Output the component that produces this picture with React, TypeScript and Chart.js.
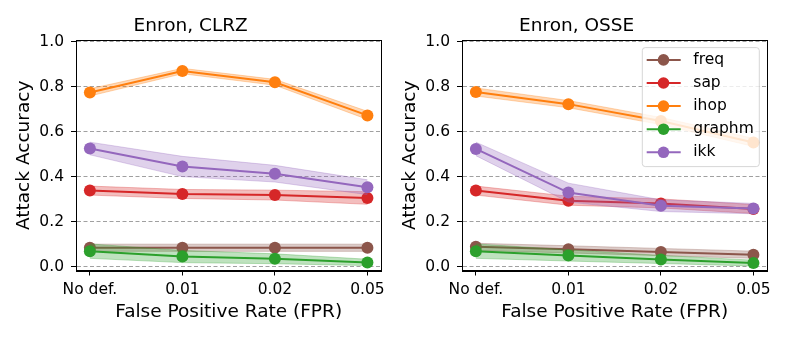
import React, { useEffect, useRef } from "react";
import { Chart, registerables } from "chart.js";

Chart.register(...registerables);

const categories = ["No def.", "0.01", "0.02", "0.05"];
const categoryPositions = [0, 1, 2, 3];
const yTicks = [0, 0.2, 0.4, 0.6, 0.8, 1.0];
const seriesNames = ["freq", "sap", "ihop", "graphm", "ikk"];
const seriesColors = ["#8c564b", "#d62728", "#ff7f0e", "#2ca02c", "#9467bd"];

// Enron, CLRZ (mean values and half-width of the shaded band)
const clrzFreq = [0.084, 0.084, 0.084, 0.084];
const clrzFreqSpread = [0.016, 0.016, 0.016, 0.016];
const clrzSap = [0.338, 0.323, 0.318, 0.305];
const clrzSapSpread = [0.02, 0.02, 0.022, 0.028];
const clrzIhop = [0.774, 0.869, 0.819, 0.672];
const clrzIhopSpread = [0.016, 0.012, 0.013, 0.018];
const clrzGraphm = [0.069, 0.045, 0.035, 0.019];
const clrzGraphmSpread = [0.032, 0.027, 0.022, 0.014];
const clrzIkk = [0.525, 0.445, 0.413, 0.353];
const clrzIkkSpread = [0.028, 0.045, 0.037, 0.033];

// Enron, OSSE
const osseFreq = [0.088, 0.077, 0.065, 0.053];
const osseFreqSpread = [0.016, 0.016, 0.016, 0.016];
const osseSap = [0.338, 0.293, 0.281, 0.256];
const osseSapSpread = [0.02, 0.02, 0.02, 0.02];
const osseIhop = [0.776, 0.722, 0.647, 0.552];
const osseIhopSpread = [0.018, 0.016, 0.016, 0.018];
const osseGraphm = [0.069, 0.05, 0.032, 0.016];
const osseGraphmSpread = [0.032, 0.025, 0.018, 0.013];
const osseIkk = [0.523, 0.329, 0.271, 0.258];
const osseIkkSpread = [0.03, 0.042, 0.026, 0.023];

const FONT = "'DejaVu Sans', sans-serif";

function rgba(hex: string, a: number) {
  const n = parseInt(hex.slice(1), 16);
  return `rgba(${(n >> 16) & 255},${(n >> 8) & 255},${n & 255},${a})`;
}

const framePlugin = {
  id: "frame",
  afterDatasetsDraw(chart: any) {
    const { ctx, chartArea: a } = chart;
    ctx.save();
    ctx.strokeStyle = "#000";
    ctx.lineWidth = 1;
    const l = Math.round(a.left) + 0.5;
    const t = Math.round(a.top) + 0.5;
    const r = Math.round(a.right) + 0.5;
    const b = Math.round(a.bottom) + 0.5;
    ctx.strokeRect(l, t, r - l, b - t);
    ctx.restore();
  },
};

const boxLegendPlugin = {
  id: "boxLegend",
  afterDraw(chart: any, _args: any, opts: any) {
    if (!opts || !opts.show) return;
    const { ctx, chartArea: a } = chart;
    const w = 117;
    const h = 119;
    const x = a.right - 8 - w;
    const y = a.top + 7.4;
    const r = 3;
    ctx.save();
    ctx.beginPath();
    ctx.moveTo(x + r, y);
    ctx.lineTo(x + w - r, y);
    ctx.arcTo(x + w, y, x + w, y + r, r);
    ctx.lineTo(x + w, y + h - r);
    ctx.arcTo(x + w, y + h, x + w - r, y + h, r);
    ctx.lineTo(x + r, y + h);
    ctx.arcTo(x, y + h, x, y + h - r, r);
    ctx.lineTo(x, y + r);
    ctx.arcTo(x, y, x + r, y, r);
    ctx.closePath();
    ctx.fillStyle = "rgba(255,255,255,0.8)";
    ctx.fill();
    ctx.strokeStyle = "rgba(204,204,204,0.8)";
    ctx.lineWidth = 1;
    ctx.stroke();
    seriesNames.forEach((name, i) => {
      const cy = y + 12.3 + i * 23.1;
      const color = seriesColors[i];
      ctx.strokeStyle = color;
      ctx.lineWidth = 2;
      ctx.beginPath();
      ctx.moveTo(x + 4.4, cy);
      ctx.lineTo(x + 38.4, cy);
      ctx.stroke();
      ctx.fillStyle = color;
      ctx.beginPath();
      ctx.arc(x + 21.2, cy, 5.8, 0, Math.PI * 2);
      ctx.fill();
      ctx.fillStyle = "#000";
      ctx.font = `15.5px ${FONT}`;
      ctx.textBaseline = "middle";
      ctx.textAlign = "left";
      ctx.fillText(name, x + 51, cy);
    });
    ctx.restore();
  },
};

type Series = { mean: number[]; spread: number[] };

function buildDatasets(series: Series[]) {
  const datasets: any[] = [];
  series.forEach((s, k) => {
    const color = seriesColors[k];
    const base = 100 - k * 10;
    datasets.push({
      label: seriesNames[k] + " upper",
      data: categoryPositions.map((x, i) => ({ x, y: s.mean[i] + s.spread[i] })),
      borderColor: rgba(color, 0.3),
      borderWidth: 1,
      pointRadius: 0,
      fill: false,
      order: base,
    });
    datasets.push({
      label: seriesNames[k] + " lower",
      data: categoryPositions.map((x, i) => ({ x, y: s.mean[i] - s.spread[i] })),
      borderColor: rgba(color, 0.3),
      backgroundColor: rgba(color, 0.3),
      borderWidth: 1,
      pointRadius: 0,
      fill: "-1",
      order: base - 1,
    });
    datasets.push({
      label: seriesNames[k],
      data: categoryPositions.map((x, i) => ({ x, y: s.mean[i] })),
      borderColor: color,
      backgroundColor: color,
      borderWidth: 2,
      pointRadius: 6,
      pointBorderWidth: 0,
      pointBackgroundColor: color,
      fill: false,
      order: base - 2,
    });
  });
  return datasets;
}

function Panel({ title, series, legend, left }: { title: string; series: Series[]; legend: boolean; left: number }) {
  const ref = useRef<HTMLCanvasElement>(null);
  useEffect(() => {
    if (!ref.current) return;
    const chart = new Chart(ref.current, {
      type: "line",
      data: { datasets: buildDatasets(series) },
      plugins: [framePlugin, boxLegendPlugin],
      options: {
        animation: false,
        responsive: false,
        devicePixelRatio: 1,
        layout: { padding: { left: 0, right: 12.7, top: 0, bottom: 0 } },
        plugins: {
          legend: { display: false },
          tooltip: { enabled: false },
          title: {
            display: true,
            text: title,
            color: "#000",
            font: { family: FONT, size: 18.5, weight: "normal" },
            padding: { top: 15, bottom: 3 },
          },
          boxLegend: { show: legend },
        } as any,
        scales: {
          x: {
            type: "linear",
            min: -0.15,
            max: 3.15,
            afterBuildTicks: (scale: any) => {
              scale.ticks = categoryPositions.map((v) => ({ value: v }));
            },
            afterFit: (scale: any) => {
              scale.height = 67.5;
            },
            ticks: {
              color: "#000",
              font: { family: FONT, size: 15.5 },
              padding: 5,
              maxRotation: 0,
              callback: (v: any) => categories[Math.round(Number(v))] ?? "",
            },
            grid: {
              drawOnChartArea: false,
              drawTicks: true,
              tickLength: 5,
              tickColor: "#000",
              tickWidth: 1,
            },
            border: { display: true, color: "#000", width: 1 },
            title: {
              display: true,
              text: "False Positive Rate (FPR)",
              color: "#000",
              font: { family: FONT, size: 18.5 },
              padding: { top: 0, bottom: 15 },
            },
          },
          y: {
            type: "linear",
            min: -0.017,
            max: 1.006,
            afterBuildTicks: (scale: any) => {
              scale.ticks = yTicks.map((v) => ({ value: v }));
            },
            afterFit: (scale: any) => {
              scale.width = 76;
            },
            ticks: {
              color: "#000",
              font: { family: FONT, size: 15.5 },
              padding: 7,
              callback: (v: any) => Number(v).toFixed(1),
            },
            grid: {
              drawOnChartArea: true,
              drawTicks: true,
              tickLength: 5,
              tickColor: "#000",
              tickWidth: 1,
              color: "#a0a0a0",
              lineWidth: 1,
            },
            border: { display: true, color: "#000", width: 1, dash: [4, 2.5] },
            title: {
              display: true,
              text: "Attack Accuracy",
              color: "#000",
              font: { family: FONT, size: 18.5 },
              padding: { top: 13, bottom: 0 },
            },
          },
        },
      } as any,
    });
    return () => chart.destroy();
  }, []);
  return (
    <canvas
      ref={ref}
      width={394}
      height={338}
      style={{ position: "absolute", left, top: 0, width: 394, height: 338 }}
    />
  );
}

export default function App() {
  const clrz: Series[] = [
    { mean: clrzFreq, spread: clrzFreqSpread },
    { mean: clrzSap, spread: clrzSapSpread },
    { mean: clrzIhop, spread: clrzIhopSpread },
    { mean: clrzGraphm, spread: clrzGraphmSpread },
    { mean: clrzIkk, spread: clrzIkkSpread },
  ];
  const osse: Series[] = [
    { mean: osseFreq, spread: osseFreqSpread },
    { mean: osseSap, spread: osseSapSpread },
    { mean: osseIhop, spread: osseIhopSpread },
    { mean: osseGraphm, spread: osseGraphmSpread },
    { mean: osseIkk, spread: osseIkkSpread },
  ];
  return (
    <div style={{ position: "absolute", left: 0, top: 0, width: 789, height: 338, background: "#fff", overflow: "hidden" }}>
      <Panel title="Enron, CLRZ" series={clrz} legend={false} left={0} />
      <Panel title="Enron, OSSE" series={osse} legend={true} left={386} />
    </div>
  );
}
